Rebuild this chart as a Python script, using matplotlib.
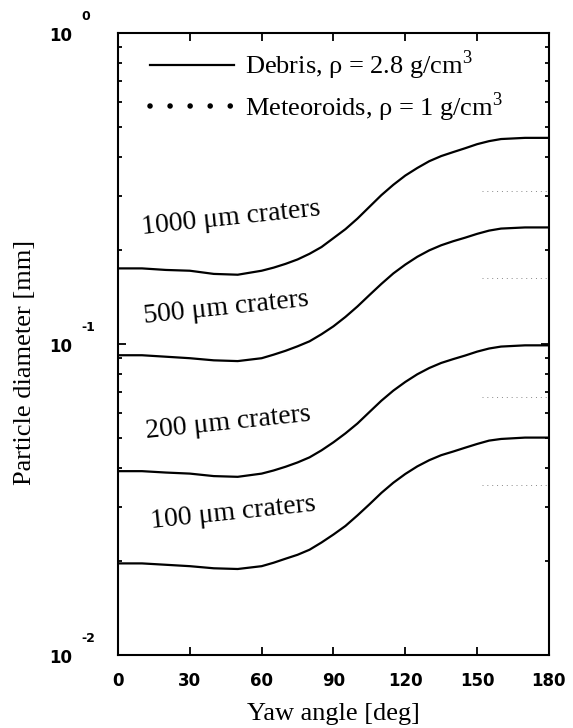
import numpy as np
import matplotlib.pyplot as plt
from matplotlib.lines import Line2D

plt.rcParams['font.family'] = ['Liberation Serif', 'DejaVu Serif']
plt.rcParams['mathtext.fontset'] = 'custom'
plt.rcParams['mathtext.rm'] = 'Liberation Serif'

# yaw angle grid [deg]
yaw = [0, 10, 20, 30, 40, 50, 60, 65, 70, 75, 80, 85, 90, 95, 100, 105, 110, 115,
       120, 125, 130, 135, 140, 145, 150, 155, 160, 170, 180]

# debris curves, particle diameter [mm]
d1000 = [0.175, 0.175, 0.173, 0.172, 0.168, 0.167, 0.172, 0.176, 0.181, 0.187, 0.195,
         0.205, 0.219, 0.234, 0.253, 0.276, 0.301, 0.325, 0.348, 0.368, 0.387, 0.402,
         0.414, 0.426, 0.439, 0.449, 0.456, 0.46, 0.46]
d500 = [0.092, 0.092, 0.091, 0.090, 0.0886, 0.0881, 0.090, 0.0924, 0.0951, 0.0983, 0.102,
        0.1075, 0.114, 0.1222, 0.132, 0.1436, 0.156, 0.1686, 0.180, 0.1907, 0.200, 0.2077,
        0.214, 0.2197, 0.226, 0.2315, 0.235, 0.237, 0.237]
d200 = [0.039, 0.039, 0.0386, 0.0383, 0.0376, 0.0374, 0.0383, 0.0392, 0.0403, 0.0416, 0.0432,
        0.0455, 0.0483, 0.0516, 0.0555, 0.0604, 0.0657, 0.0708, 0.0755, 0.0799, 0.0837, 0.0869,
        0.0894, 0.0918, 0.0945, 0.0967, 0.0981, 0.099, 0.099]
d100 = [0.0197, 0.0197, 0.0195, 0.0193, 0.0190, 0.0189, 0.0193, 0.0198, 0.0204, 0.0210, 0.0218,
        0.0230, 0.0244, 0.0260, 0.0281, 0.0305, 0.0332, 0.0358, 0.0382, 0.0404, 0.0423, 0.0439,
        0.0451, 0.0464, 0.0477, 0.0489, 0.0495, 0.050, 0.050]

# meteoroid curves (only faintly visible near the right edge)
met_yaw = [152, 160, 170, 180]
m1000 = [0.31, 0.31, 0.31, 0.31]
m500 = [0.163, 0.163, 0.163, 0.163]
m200 = [0.0676, 0.0676, 0.0676, 0.0676]
m100 = [0.0352, 0.0352, 0.0352, 0.0352]

crater_labels = ['1000 μm craters', '500 μm craters', '200 μm craters', '100 μm craters']
label_x = [47, 45, 46, 48]
label_y = [0.254, 0.1306, 0.0557, 0.0286]

decades = [1e-2, 1e-1, 1e0]
exponents = ['-2', '-1', '0']
xticks = [0, 30, 60, 90, 120, 150, 180]

fig = plt.figure(figsize=(5.73, 7.28), dpi=100)
ax = fig.add_axes([0.206, 0.1003, 0.752, 0.8544])

for d in [d1000, d500, d200, d100]:
    ax.plot(yaw, d, color='black', lw=1.6, solid_joinstyle='round')
for m in [m1000, m500, m200, m100]:
    ax.plot(met_yaw, m, color='#888888', lw=0.7, linestyle=(0, (1, 4)))

for txt, lx, ly in zip(crater_labels, label_x, label_y):
    ax.text(lx, ly, txt, fontsize=20, rotation=6, rotation_mode='anchor',
            ha='center', va='center')

ax.set_yscale('log')
ax.set_xlim(0, 180)
ax.set_ylim(1e-2, 1e0)
ax.set_xticks(xticks)
ax.set_xticklabels([str(t) for t in xticks], fontfamily='DejaVu Sans',
                   fontweight='bold', fontsize=12)
ax.tick_params(axis='x', direction='in', length=6, width=1.3, top=True, pad=12)
ax.tick_params(axis='y', which='major', direction='in', length=6, width=1.3,
               right=True, labelleft=False)
ax.tick_params(axis='y', which='minor', direction='in', length=3, width=1.3, right=True)
for s in ax.spines.values():
    s.set_linewidth(1.5)

# y tick labels drawn as "10" with a raised exponent
for v, e in zip(decades, exponents):
    ax.annotate('10', xy=(0, v), xycoords=('axes fraction', 'data'),
                xytext=(-46, -3), textcoords='offset pixels', ha='right', va='center',
                fontfamily='DejaVu Sans', fontweight='bold', fontsize=12)
    ax.annotate(e, xy=(0, v), xycoords=('axes fraction', 'data'),
                xytext=(-37, 16), textcoords='offset pixels', ha='left', va='center',
                fontfamily='DejaVu Sans', fontweight='bold', fontsize=9)

ax.set_xlabel('Yaw angle [deg]', fontsize=19)
ax.xaxis.set_label_coords(0.5, -0.078)
ax.set_ylabel('Particle diameter [mm]', fontsize=19)
ax.yaxis.set_label_coords(-0.19, 0.47)

handles = [Line2D([], [], color='black', lw=1.6),
           Line2D([], [], color='black', lw=4, linestyle=(0, (0.01, 3.6)),
                  dash_capstyle='round')]
ax.legend(handles, ['Debris, ρ = 2.8 g/cm$^3$', 'Meteoroids, ρ = 1 g/cm$^3$'],
          loc='upper left', bbox_to_anchor=(0.074, 0.975), frameon=False,
          fontsize=19, handlelength=3.2, handletextpad=0.4, labelspacing=0.3,
          borderpad=0, borderaxespad=0)

plt.savefig('out.png', dpi=100)
